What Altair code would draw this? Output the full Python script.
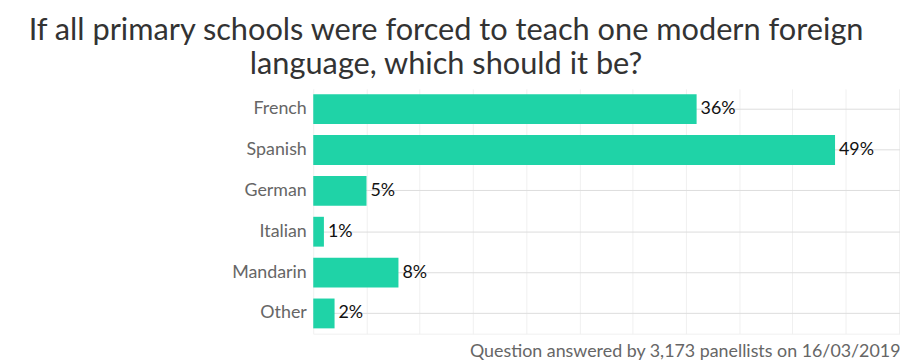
import altair as alt
import pandas as pd

languages = ["French", "Spanish", "German", "Italian", "Mandarin", "Other"]
shares = [36, 49, 5, 1, 8, 2]
labels = ["36%", "49%", "5%", "1%", "8%", "2%"]
grid_values = [0, 5, 10, 15, 20, 25, 30, 35, 40, 45, 50, 55]
title_lines = ["If all primary schools were forced to teach one modern foreign",
               "language, which should it be?"]
footer = "Question answered by 3,173 panellists on 16/03/2019"

df = pd.DataFrame({"language": languages, "share": shares, "label": labels})

x = alt.X("share:Q",
          scale=alt.Scale(domain=[0, 55.1], nice=False),
          axis=alt.Axis(values=grid_values, labels=False, ticks=False,
                        domainColor="#f0f0f0", gridColor="#f0f0f0",
                        title=footer, titleAnchor="end", titleAlign="right",
                        titleFont="Lato", titleFontSize=18, titleFontWeight="normal",
                        titleColor="#666666", titleBaseline="top", titlePadding=9))
y = alt.Y("language:N", sort=languages,
          scale=alt.Scale(paddingInner=0.27, paddingOuter=0.13),
          axis=alt.Axis(title=None, ticks=False, domain=False, labelPadding=7,
                        labelFont="Lato", labelFontSize=18, labelColor="#666666"))

bars = alt.Chart(df).mark_bar(color="#1fd3a7").encode(x=x, y=y)
text = alt.Chart(df).mark_text(align="left", baseline="middle", dx=4,
                               font="Lato", fontSize=18, color="#111111").encode(
    x="share:Q", y=alt.Y("language:N", sort=languages), text="label:N")

chart = (bars + text).properties(
    width=592, height=247,
    autosize=alt.AutoSizeParams(type="none"),
    padding={"left": 308, "top": 80, "right": 0, "bottom": 30},
    title=alt.TitleParams(text=title_lines, anchor="middle", frame="group",
                          dx=-162, font="Lato", fontSize=31, fontWeight="normal",
                          color="#333333", lineHeight=34, offset=8),
).configure_view(stroke=None).configure_axis(grid=True)

chart.save("out.html", embed_options={"renderer": "svg", "actions": False})
